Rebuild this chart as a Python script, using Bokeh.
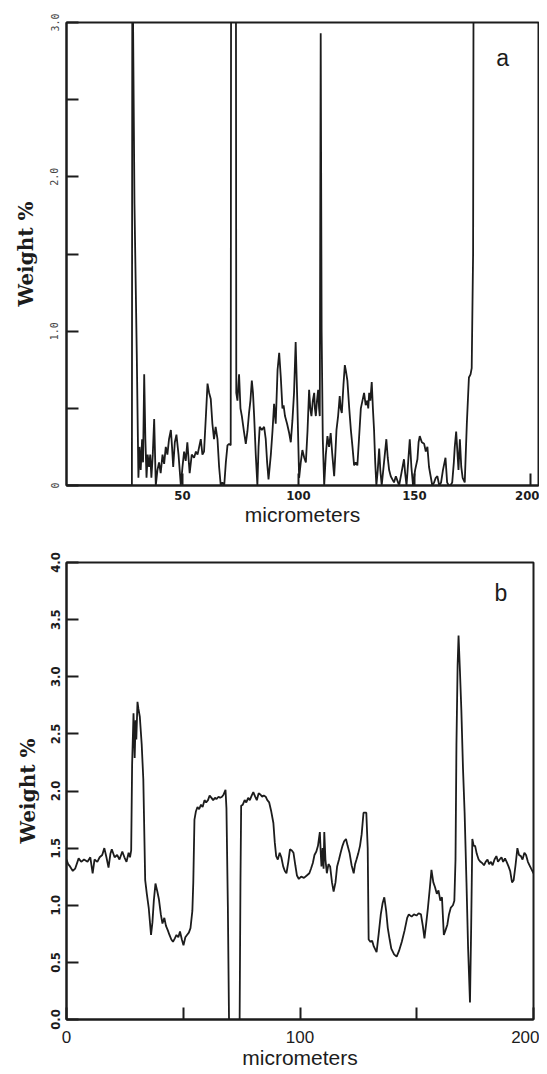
from bokeh.plotting import figure
from bokeh.layouts import column
from bokeh.models import Range1d, FixedTicker, Label
from bokeh.embed import file_html
from bokeh.resources import INLINE

# ---------------- data: panel a ----------------
a_um = [0, 28.2, 28.5, 28.7, 29.3, 30.3, 31.0, 31.5, 32.0, 32.6, 33.0, 33.5, 34.0, 34.5, 35.0, 35.6,
        36.1, 36.6, 37.2, 37.8, 38.5, 39.2, 39.9, 40.6, 41.4, 42.1, 42.8, 43.5, 44.2, 45.0, 45.5,
        46.0, 46.7, 47.4, 48.3, 49.3, 50.0, 50.7, 51.4, 52.1, 53.1, 54.0, 55.0, 55.8, 56.5, 57.2,
        57.9, 58.6, 59.3, 60.1, 60.8, 61.5, 62.2, 62.9, 63.6, 64.3, 65.1, 65.8, 66.5, 67.2, 68.0,
        68.7, 69.4, 70.1, 70.8, 71.1, 72.9, 73.2, 73.7, 74.4, 75.0, 75.6, 76.5, 77.3, 78.0, 78.7,
        79.3, 79.9, 80.4, 80.9, 81.6, 82.3, 82.8, 83.3, 84.2, 85.2, 85.9, 86.5, 87.1, 88.1, 88.8,
        89.5, 90.2, 91.0, 91.7, 92.4, 93.1, 93.6, 94.2, 95.1, 96.0, 96.7, 97.4, 98.1, 98.8, 99.5,
        100.3, 101.0, 101.7, 102.5, 103.2, 103.9, 104.6, 105.1, 105.6, 106.2, 106.8, 107.1, 107.5,
        108.0, 108.5, 108.9, 109.2, 109.6, 110.0, 110.5, 111.1, 111.8, 112.5, 113.2, 113.9, 114.6,
        115.4, 115.9, 116.4, 117.1, 117.8, 118.2, 118.7, 119.4, 120.0, 120.5, 121.1, 121.9, 122.6,
        123.3, 124.0, 124.7, 125.4, 126.1, 126.9, 127.6, 128.3, 129.0, 129.7, 130.1, 130.5, 131.0,
        131.6, 132.1, 132.6, 133.1, 133.6, 134.2, 134.8, 135.3, 135.9, 136.9, 137.9, 138.5, 139.1,
        139.8, 140.5, 141.2, 142.0, 142.7, 143.4, 144.4, 145.5, 146.0, 146.6, 147.3, 148.0, 148.7,
        149.4, 150.3, 151.3, 151.8, 152.3, 153.2, 154.2, 154.9, 155.6, 156.3, 157.0, 157.7, 158.5,
        159.2, 159.9, 160.7, 161.5, 162.3, 163.4, 164.1, 164.8, 165.5, 166.3, 167.0, 167.4, 168.0,
        168.6, 169.0, 169.6, 170.2, 170.8, 171.7, 172.6, 173.5, 174.2, 174.7, 175.3, 175.8, 203.5]
a_wt = [0.0, 0.0, 6.0, 3.0, 1.83, 0.85, 0.05, 0.25, 0.1, 0.3, 0.15, 0.72, 0.3, 0.05, 0.2, 0.12,
        0.2, 0.05, 0.2, 0.43, 0.0, 0.1, 0.15, 0.08, 0.2, 0.14, 0.25, 0.2, 0.3, 0.36, 0.25,
        0.12, 0.28, 0.33, 0.2, 0.0, 0.12, 0.22, 0.16, 0.28, 0.08, 0.2, 0.18, 0.22, 0.2, 0.25,
        0.3, 0.2, 0.22, 0.45, 0.66, 0.6, 0.56, 0.4, 0.3, 0.38, 0.3, 0.12, 0.0, 0.02, 0.0,
        0.15, 0.26, 0.27, 0.26, 6.0, 6.0, 0.6, 0.55, 0.72, 0.5, 0.45, 0.35, 0.27, 0.35, 0.47,
        0.55, 0.68, 0.6, 0.45, 0.2, 0.0, 0.25, 0.38, 0.36, 0.38, 0.3, 0.15, 0.04, 0.2, 0.35,
        0.53, 0.4, 0.75, 0.86, 0.7, 0.5, 0.52, 0.45, 0.4, 0.34, 0.28, 0.42, 0.6, 0.93, 0.55,
        0.05, 0.15, 0.23, 0.18, 0.15, 0.35, 0.62, 0.5, 0.45, 0.55, 0.6, 0.5, 0.45,
        0.55, 0.62, 0.5, 0.45, 2.93, 1.0, 0.3, 0.0, 0.2, 0.32, 0.25, 0.34, 0.2,
        0.06, 0.2, 0.36, 0.45, 0.58, 0.5, 0.47, 0.65, 0.78, 0.74, 0.68, 0.5, 0.36,
        0.25, 0.13, 0.15, 0.13, 0.3, 0.5, 0.55, 0.6, 0.52, 0.55, 0.5, 0.6, 0.55,
        0.67, 0.5, 0.36, 0.15, 0.0, 0.1, 0.24, 0.1, 0.0, 0.15, 0.3, 0.18, 0.1,
        0.06, 0.04, 0.02, 0.06, 0.03, 0.0, 0.08, 0.17, 0.08, 0.0, 0.15, 0.3, 0.12,
        0.0, 0.1, 0.17, 0.28, 0.32, 0.28, 0.27, 0.22, 0.25, 0.12, 0.06, 0.0, 0.02,
        0.05, 0.06, 0.0, 0.02, 0.1, 0.18, 0.02, 0.0, 0.0, 0.02, 0.15, 0.25, 0.35,
        0.2, 0.1, 0.3, 0.12, 0.05, 0.02, 0.4, 0.7, 0.72, 0.76, 1.5, 6.0, 6.0]

# ---------------- data: panel b ----------------
b_um = [0, 0.7, 1.5, 2.7, 3.7, 5.2, 6.3, 7.5, 9.0, 10.2, 11.2, 12.0, 13.2, 14.2, 15.3, 16.2, 17.1,
        18.0, 18.8, 19.4, 20.6, 21.7, 22.7, 23.9, 24.8, 25.7, 26.6, 27.2, 27.7, 28.1, 28.7, 29.2,
        29.6, 29.9, 30.4, 30.8, 31.4, 32.2, 32.9, 33.7, 34.4, 35.2, 36.2, 36.8, 37.4, 38.1, 38.9,
        39.6, 40.4, 41.1, 41.9, 42.6, 43.4, 44.1, 44.9, 45.6, 46.4, 47.1, 47.9, 48.6, 49.4, 50.1,
        50.9, 51.6, 52.4, 53.1, 53.9, 54.3, 54.8, 55.4, 56.1, 56.8, 57.6, 58.3, 59.1, 59.8, 60.6,
        61.3, 62.1, 62.8, 63.6, 64.3, 65.1, 65.8, 66.6, 67.3, 68.1, 68.5, 69.1, 69.6, 70.0, 74.0,
        74.5, 74.8, 75.5, 76.3, 77.0, 77.8, 78.5, 79.3, 80.0, 80.8, 81.5, 82.3, 83.0, 83.8, 84.5,
        85.3, 86.0, 86.8, 87.7, 88.6, 89.2, 89.8, 90.5, 91.3, 92.0, 92.8, 93.5, 94.2, 95.0, 95.7,
        96.5, 97.2, 98.0, 98.7, 99.5, 100.5, 101.7, 102.9, 104.0, 104.7, 105.5, 106.2, 107.0, 107.7,
        108.5, 108.9, 109.2, 109.7, 110.1, 110.4, 110.9, 111.5, 112.2, 112.9, 113.7, 114.4, 115.2,
        115.9, 116.7, 117.4, 118.2, 118.9, 119.7, 120.4, 121.2, 122.1, 123.0, 123.6, 124.2, 124.9,
        125.7, 126.4, 127.2, 128.4, 129.0, 129.4, 130.2, 130.9, 131.6, 132.8, 133.7, 134.6, 135.4,
        136.1, 136.9, 137.6, 138.4, 139.1, 140.3, 141.4, 142.4, 143.6, 144.8, 145.9, 146.6, 147.8,
        148.8, 149.9, 150.8, 151.8, 152.6, 153.3, 154.1, 154.8, 155.6, 156.3, 157.1, 157.8, 158.6,
        159.3, 160.1, 160.8, 161.6, 162.3, 163.1, 163.8, 164.6, 165.5, 166.1, 166.6, 167.0, 167.5,
        167.9, 168.5, 169.1, 169.8, 170.5, 171.3, 172.0, 172.8, 173.3, 173.8, 174.4, 175.0, 175.7,
        176.5, 177.3, 178.0, 178.8, 179.5, 180.3, 181.0, 181.8, 182.5, 183.3, 184.1, 184.8, 185.5,
        186.3, 187.0, 187.8, 188.5, 189.3, 190.0, 190.8, 191.5, 192.3, 193.1, 193.8, 194.6, 195.3,
        196.1, 196.8, 197.6, 198.3, 199.0, 200.0]
b_wt = [1.40, 1.36, 1.34, 1.30, 1.32, 1.41, 1.38, 1.40, 1.38, 1.42, 1.28, 1.40, 1.38, 1.42, 1.44, 1.50, 1.42,
        1.33, 1.45, 1.49, 1.42, 1.44, 1.40, 1.47, 1.42, 1.38, 1.46, 1.42, 1.48, 2.23, 2.68, 2.29,
        2.62, 2.45, 2.78, 2.72, 2.65, 2.41, 2.10, 1.22, 1.10, 0.98, 0.74, 0.85, 1.04, 1.19, 1.12,
        1.05, 0.92, 0.84, 0.89, 0.82, 0.78, 0.74, 0.70, 0.68, 0.71, 0.74, 0.72, 0.77, 0.70, 0.65,
        0.72, 0.74, 0.76, 0.80, 0.95, 1.20, 1.75, 1.82, 1.86, 1.84, 1.88, 1.86, 1.92, 1.90, 1.92,
        1.96, 1.94, 1.92, 1.94, 1.93, 1.95, 1.94, 1.95, 1.97, 2.01, 1.85, 1.00, 0.00, -0.50, -0.50,
        1.20, 1.87, 1.88, 1.92, 1.90, 1.94, 1.92, 1.96, 1.99, 1.95, 1.92, 1.98, 1.97, 1.95, 1.96,
        1.95, 1.92, 1.90, 1.82, 1.72, 1.55, 1.43, 1.40, 1.46, 1.42, 1.34, 1.30, 1.28, 1.38, 1.49,
        1.48, 1.46, 1.35, 1.26, 1.23, 1.25, 1.24, 1.26, 1.28, 1.32, 1.37, 1.44, 1.47, 1.52,
        1.64, 1.45, 1.34, 1.50, 1.32, 1.64, 1.40, 1.28, 1.36, 1.34, 1.20, 1.12, 1.20,
        1.34, 1.40, 1.46, 1.52, 1.56, 1.58, 1.52, 1.46, 1.35, 1.28, 1.36, 1.40, 1.45,
        1.52, 1.62, 1.81, 1.81, 1.50, 0.70, 0.68, 0.69, 0.64, 0.59, 0.75, 0.92, 1.02,
        1.07, 0.95, 0.80, 0.70, 0.62, 0.57, 0.55, 0.60, 0.68, 0.78, 0.89, 0.92, 0.90,
        0.92, 0.91, 0.93, 0.92, 0.82, 0.71, 0.85, 0.98, 1.15, 1.31, 1.20, 1.16, 1.10,
        1.13, 1.04, 1.07, 0.74, 0.78, 0.83, 0.92, 0.98, 1.00, 1.04, 1.40, 2.41, 3.10,
        3.36, 3.05, 2.71, 2.20, 1.81, 1.20, 0.62, 0.15, 0.80, 1.58, 1.52, 1.52, 1.45,
        1.40, 1.38, 1.37, 1.35, 1.38, 1.40, 1.36, 1.38, 1.35, 1.40, 1.43, 1.38, 1.40,
        1.42, 1.38, 1.41, 1.38, 1.34, 1.30, 1.20, 1.22, 1.35, 1.50, 1.44, 1.43, 1.40,
        1.46, 1.44, 1.38, 1.35, 1.32, 1.28]

a_xticks = [50, 100, 150, 200]
a_yticks = [0, 1, 2, 3]
a_yminor = [0.5, 1.5, 2.5]
b_xticks = [0, 100, 200]
b_xminor = [50, 150]
b_yticks = [0, 0.5, 1.0, 1.5, 2.0, 2.5, 3.0, 3.5, 4.0]

a_ylabels = {0: "0", 1: "1.0", 2: "2.0", 3: "3.0"}
b_ylabels = {t: "%.1f" % t for t in b_yticks}

INK = "#1c1c1c"


def style(p):
    p.grid.visible = False
    p.outline_line_color = INK
    p.outline_line_width = 2
    p.background_fill_color = "white"
    p.border_fill_color = "white"
    for ax in (p.xaxis[0], p.yaxis[0]):
        ax.axis_line_color = INK
        ax.axis_line_width = 2
        ax.major_tick_line_color = INK
        ax.major_tick_line_width = 2
        ax.minor_tick_line_color = INK
        ax.minor_tick_line_width = 2
        ax.major_tick_in = 12
        ax.major_tick_out = 0
        ax.minor_tick_in = 12
        ax.minor_tick_out = 0
        ax.major_label_text_color = INK
        ax.axis_label_text_color = INK
    p.xaxis.axis_label = "micrometers"
    p.xaxis.axis_label_text_font = "Liberation Sans"
    p.xaxis.axis_label_text_font_style = "normal"
    p.xaxis.axis_label_text_font_size = "21px"
    p.yaxis.axis_label = "Weight %"
    p.yaxis.axis_label_text_font = "DejaVu Serif"
    p.yaxis.axis_label_text_font_style = "bold"
    p.yaxis.axis_label_text_font_size = "20px"
    p.yaxis.major_label_orientation = "vertical"


# ---------------- panel a ----------------
pa = figure(frame_width=472, frame_height=463, x_range=Range1d(0, 203.5), y_range=Range1d(0, 3.0),
            output_backend="svg", toolbar_location=None,
            min_border_left=64, min_border_right=3, min_border_top=22, min_border_bottom=55)
style(pa)
pa.xaxis.ticker = FixedTicker(ticks=a_xticks)
pa.yaxis.ticker = FixedTicker(ticks=a_yticks, minor_ticks=a_yminor)
pa.yaxis.major_label_overrides = a_ylabels
pa.yaxis.major_label_text_font = "DejaVu Sans Mono"
pa.yaxis.major_label_text_font_size = "10px"
pa.yaxis.major_label_text_color = "#444444"
pa.yaxis.major_label_standoff = 8
pa.yaxis.axis_label_standoff = 10
pa.xaxis.major_label_text_font = "DejaVu Sans Condensed"
pa.xaxis.major_label_text_font_style = "bold"
pa.xaxis.major_label_text_font_size = "13px"
pa.xaxis.major_label_standoff = 5
pa.xaxis.axis_label_standoff = 0
pa.line(a_um, a_wt, line_color=INK, line_width=1.8)
pa.add_layout(Label(x=188, y=2.77, text="a", text_font="Liberation Sans", text_font_size="23px",
                    text_align="center", text_baseline="middle", text_color=INK))

# ---------------- panel b ----------------
pb = figure(frame_width=467, frame_height=457, x_range=Range1d(0, 200), y_range=Range1d(0, 4.0),
            output_backend="svg", toolbar_location=None,
            min_border_left=66, min_border_right=6, min_border_top=22, min_border_bottom=47)
style(pb)
pb.xaxis.ticker = FixedTicker(ticks=b_xticks, minor_ticks=b_xminor)
pb.yaxis.ticker = FixedTicker(ticks=b_yticks)
pb.yaxis.major_label_overrides = b_ylabels
pb.yaxis.major_label_text_font = "DejaVu Sans Condensed"
pb.yaxis.major_label_text_font_style = "bold"
pb.yaxis.major_label_text_font_size = "13px"
pb.yaxis.major_label_standoff = 7
pb.yaxis.axis_label_standoff = 8
pb.xaxis.major_label_text_font = "Liberation Sans"
pb.xaxis.major_label_text_font_size = "17px"
pb.xaxis.major_label_standoff = 11
pb.xaxis.axis_label_standoff = 0
pb.line(b_um, b_wt, line_color=INK, line_width=1.8)
pb.add_layout(Label(x=186, y=3.73, text="b", text_font="Liberation Sans", text_font_size="23px",
                    text_align="center", text_baseline="middle", text_color=INK))

layout = column(pa, pb, spacing=0)
open("out.html", "w").write(file_html(layout, INLINE))
